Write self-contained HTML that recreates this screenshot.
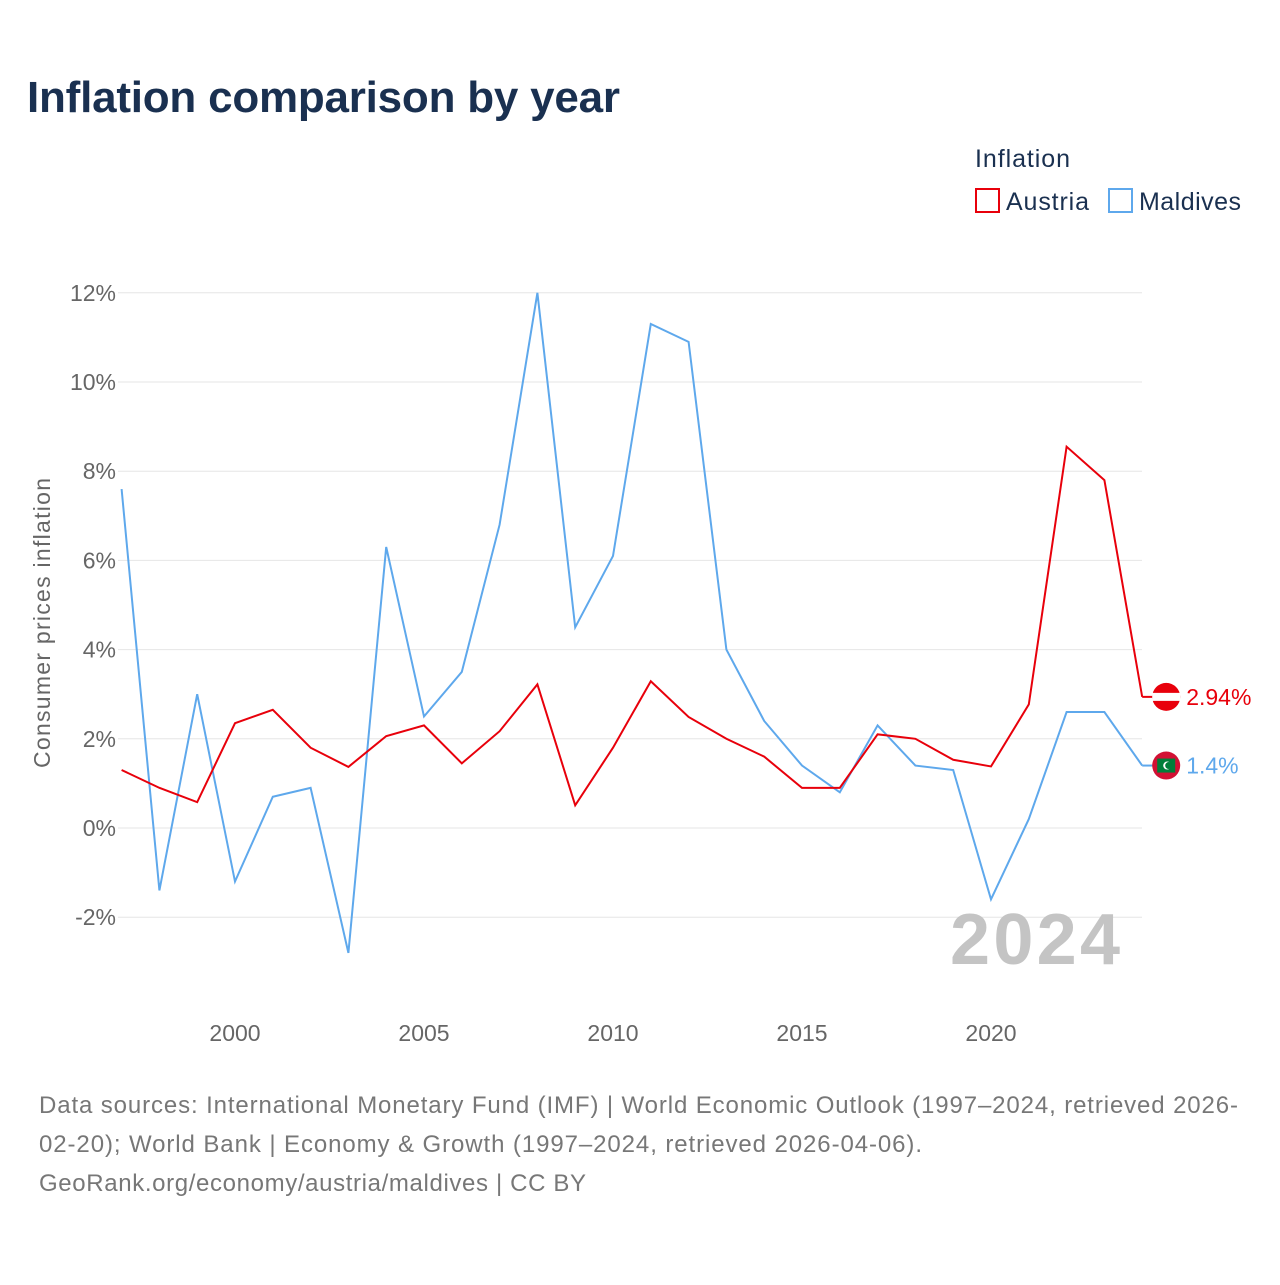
<!DOCTYPE html>
<html><head><meta charset="utf-8"><style>
body{margin:0;background:#fff;font-family:"Liberation Sans",sans-serif;}
svg text{font-family:"Liberation Sans",sans-serif;}
</style></head><body>
<svg id="chart" width="1280" height="1280" viewBox="0 0 1280 1280" xmlns="http://www.w3.org/2000/svg">
<rect width="1280" height="1280" fill="#fff"/>
<text x="27" y="112" font-size="44" font-weight="bold" fill="#1a3050" textLength="593">Inflation comparison by year</text>
<g>
<text x="975" y="167" font-size="25" fill="#1a3050" textLength="95">Inflation</text>
<g><rect x="976" y="189" width="23" height="23" fill="none" stroke="#e8000b" stroke-width="2"/><text x="1006" y="210" font-size="25" fill="#1a3050" textLength="83">Austria</text></g>
<g><rect x="1109" y="189" width="23" height="23" fill="none" stroke="#5ea8ec" stroke-width="2"/><text x="1139" y="210" font-size="25" fill="#1a3050" textLength="102">Maldives</text></g>
</g>
<g id="grid"></g>
<g id="yticks"></g>
<g id="xticks"></g>
<text transform="translate(50,623) rotate(-90)" text-anchor="middle" font-size="23" fill="#666" textLength="290">Consumer prices inflation</text>
<text x="1120" y="964" text-anchor="end" font-size="72" font-weight="bold" fill="#c4c4c4" textLength="170">2024</text>
<g id="series"></g>
<g font-size="24" fill="#777">
<text x="39" y="1113" textLength="1199">Data sources: International Monetary Fund (IMF) | World Economic Outlook (1997–2024, retrieved 2026-</text>
<text x="39" y="1152" textLength="883">02-20); World Bank | Economy &amp; Growth (1997–2024, retrieved 2026-04-06).</text>
<text x="39" y="1191" textLength="547">GeoRank.org/economy/austria/maldives | CC BY</text>
</g>
</svg>
<script>
const years=[1997,1998,1999,2000,2001,2002,2003,2004,2005,2006,2007,2008,2009,2010,2011,2012,2013,2014,2015,2016,2017,2018,2019,2020,2021,2022,2023,2024];
const austria=[1.3,0.9,0.58,2.35,2.65,1.8,1.37,2.06,2.3,1.45,2.17,3.22,0.51,1.8,3.29,2.49,2.0,1.6,0.9,0.9,2.1,2.0,1.53,1.38,2.77,8.55,7.8,2.94];
const maldives=[7.6,-1.4,3.0,-1.2,0.7,0.9,-2.8,6.3,2.5,3.5,6.8,12.0,4.5,6.1,11.3,10.9,4.0,2.4,1.4,0.8,2.3,1.4,1.3,-1.6,0.2,2.6,2.6,1.4];
const yTicks=[-2,0,2,4,6,8,10,12];
const xTicks=[2000,2005,2010,2015,2020];
const NS='http://www.w3.org/2000/svg';
const xs=y=>121.6+(y-1997)*37.8;
const ys=v=>828-v*44.6;
function mk(t,a,p){const e=document.createElementNS(NS,t);for(const k in a)e.setAttribute(k,a[k]);p.appendChild(e);return e;}
const grid=document.getElementById('grid'),yt=document.getElementById('yticks'),xt=document.getElementById('xticks'),ser=document.getElementById('series');
yTicks.forEach(v=>{
const l=mk('line',{x1:118,x2:1142,y1:ys(v),y2:ys(v),stroke:'#e6e6e6','stroke-width':1},grid);


const t=mk('text',{x:116,y:ys(v)+8,'text-anchor':'end','font-size':23,fill:'#666'},yt);
t.textContent=v+'%';


});
xTicks.forEach(v=>{
const t=mk('text',{x:xs(v),y:1041,'text-anchor':'middle','font-size':23,fill:'#666'},xt);
t.textContent=v;


});
function series(vals,color,name,label){
const pts=vals.map((v,i)=>xs(years[i])+','+ys(v)).join(' ');
const p=mk('polyline',{points:pts,fill:'none',stroke:color,'stroke-width':2},ser);


const last=vals[vals.length-1],lx=xs(years[years.length-1]),ly=ys(last);
mk('line',{x1:lx,x2:lx+12,y1:ly,y2:ly,stroke:color,'stroke-width':2},ser);
const c=mk('circle',{cx:lx+24,cy:ly,r:14,fill:name==='austria'?'#e8000b':'#d21034'},ser);


if(name==='austria'){mk('rect',{x:lx+10,y:ly-4,width:28,height:8,fill:'#fff'},ser);}
else{mk('rect',{x:lx+15,y:ly-7,width:18,height:14,fill:'#007e3a'},ser);mk('circle',{cx:lx+25,cy:ly,r:4,fill:'#fff'},ser);mk('circle',{cx:lx+26.5,cy:ly,r:3.5,fill:'#007e3a'},ser);}
const t=mk('text',{x:lx+44,y:ly+8,'font-size':23,fill:color},ser);
t.textContent=label;


}
series(maldives,'#5ea8ec','maldives',maldives[maldives.length-1]+'%');
series(austria,'#e8000b','austria',austria[austria.length-1]+'%');
</script>
</body></html>
